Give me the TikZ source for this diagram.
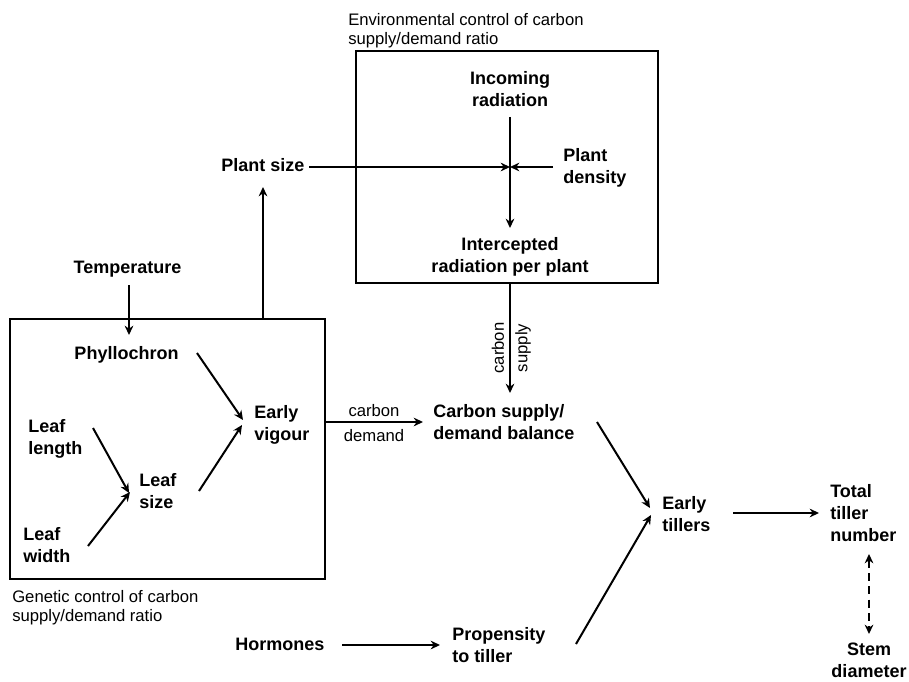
\documentclass[tikz,border=0pt]{standalone}
\usepackage{fontspec}
\setmainfont{Liberation Sans}
\usetikzlibrary{arrows.meta}

\begin{document}
\begin{tikzpicture}[x=0.75pt, y=-0.75pt,
    txt/.style={inner sep=0pt, font=\bfseries\fontsize{13.5}{16.5}\selectfont},
    lbl/.style={inner sep=0pt, font=\fontsize{12.5}{14}\selectfont},
    tip/.tip={Stealth[length=7pt,width=6.5pt]},
    arr/.style={line width=1.5pt, -tip},
    frame/.style={line width=1.4pt}]
    \useasboundingbox (0,0) rectangle (909,681);

    % the two control boxes
    \draw [frame] (356,51) rectangle (658,283);
    \draw [frame] (10,319) rectangle (325,579);
    \node [lbl, anchor=west, align=left] (envtxt) at (348,31)
        {Environmental control of carbon\\supply/demand ratio};
    \node [lbl, anchor=west, align=left] (gentxt) at (12,608)
        {Genetic control of carbon\\supply/demand ratio};

    % environmental control
    \node [txt, align=center] (incoming) at (510,89.5) {Incoming\\radiation};
    \node [txt, anchor=west, align=left] (density) at (563,168) {Plant\\density};
    \node [txt, align=center] (intercepted) at (510,256.5) {Intercepted\\radiation per plant};
    \node [txt, anchor=west] (plantsize) at (221,165.5) {Plant size};

    \coordinate (inc-out) at (510,117);
    \coordinate (int-in) at (510,228);
    \coordinate (cross) at (510,167);
    \coordinate (size-out) at (309,167);
    \coordinate (dens-out) at (553,167);
    \draw [arr] (inc-out) -- (int-in);
    \draw [arr] (size-out) -- (cross);
    \draw [arr] (dens-out) -- (cross);

    % genetic control
    \node [txt] (temp) at (127.5,269.5) {Temperature};
    \node [txt] (phyl) at (126.5,354.5) {Phyllochron};
    \node [txt, anchor=west, align=left] (vigour) at (254,424.5) {Early\\vigour};
    \node [txt, anchor=west, align=left] (leaflen) at (28,439) {Leaf\\length};
    \node [txt, anchor=west, align=left] (leafsize) at (139,491) {Leaf\\size};
    \node [txt, anchor=west, align=left] (leafwid) at (23,545.5) {Leaf\\width};

    \coordinate (temp-out) at (129,285);
    \coordinate (phyl-in) at (129,335);
    \coordinate (phyl-out) at (197,353);
    \coordinate (vig-in1) at (243,420);
    \coordinate (len-out) at (93,428);
    \coordinate (size-in1) at (129,493);
    \coordinate (wid-out) at (88,546);
    \coordinate (size-in2) at (130,492);
    \coordinate (size-out2) at (199,491);
    \coordinate (vig-in2) at (242,425);
    \coordinate (gen-top) at (263,319);
    \coordinate (size-in) at (263,187);
    \draw [arr] (temp-out) -- (phyl-in);
    \draw [arr] (phyl-out) -- (vig-in1);
    \draw [arr] (len-out) -- (size-in1);
    \draw [arr] (wid-out) -- (size-in2);
    \draw [arr] (size-out2) -- (vig-in2);
    \draw [arr] (gen-top) -- (size-in);

    % carbon balance
    \node [txt, anchor=west, align=left] (balance) at (433,422) {Carbon supply/\\demand balance};
    \coordinate (env-bot) at (510,283);
    \coordinate (bal-top) at (510,393);
    \coordinate (gen-right) at (325,422);
    \coordinate (bal-in) at (423,422);
    \draw [arr] (env-bot) -- (bal-top);
    \node [lbl, rotate=90] (csupa) at (498,348) {carbon};
    \node [lbl, rotate=90] (csupb) at (523,348) {supply};
    \draw [arr] (gen-right) -- (bal-in)
        node [lbl, midway, above=3.5pt] (cdema) {carbon}
        node [lbl, midway, below=4.5pt] (cdemb) {demand};

    % tillers
    \node [txt, anchor=west, align=left] (tillers) at (662,514.5) {Early\\tillers};
    \node [txt, anchor=west, align=left] (total) at (830,513.5) {Total\\tiller\\number};
    \node [txt, align=center] (stem) at (869,660.5) {Stem\\diameter};
    \node [txt] (hormones) at (280,644.5) {Hormones};
    \node [txt, anchor=west, align=left] (propensity) at (452,645) {Propensity\\to tiller};

    \coordinate (bal-out) at (597,422);
    \coordinate (till-in1) at (650,508);
    \coordinate (prop-out) at (576,644);
    \coordinate (till-in2) at (651,515);
    \coordinate (till-out) at (733,513);
    \coordinate (tot-in) at (819,513);
    \coordinate (tot-bot) at (869,554);
    \coordinate (stem-top) at (869,634);
    \coordinate (horm-out) at (342,645);
    \coordinate (prop-in) at (440,645);
    \draw [arr] (bal-out) -- (till-in1);
    \draw [arr] (prop-out) -- (till-in2);
    \draw [arr] (till-out) -- (tot-in);
    \draw [arr, tip-tip, dash pattern=on 6pt off 4pt] (tot-bot) -- (stem-top);
    \draw [arr] (horm-out) -- (prop-in);

\end{tikzpicture}
\end{document}
